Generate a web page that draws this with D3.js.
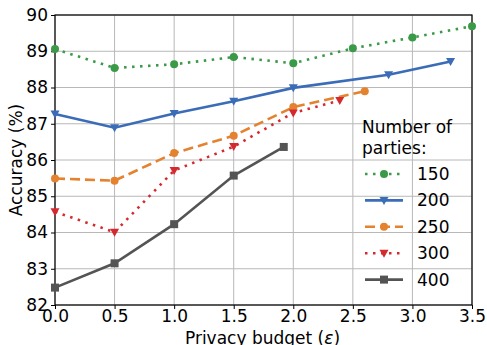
<!DOCTYPE html>
<html>
<head>
<meta charset="utf-8">
<script src="https://cdn.jsdelivr.net/npm/d3@7"></script>
<style>
  body { margin: 0; background: #fff; }
  text { font-family: "DejaVu Sans", sans-serif; fill: #000; }
</style>
</head>
<body>
<div id="chart-area"></div>
<script>
// Data
const series = ["150", "200", "250", "300", "400"];
const budget150 = [0, 0.5, 1.0, 1.5, 2.0, 2.5, 3.0, 3.5];
const acc150 = [89.06, 88.54, 88.64, 88.84, 88.67, 89.08, 89.38, 89.69];
const budget200 = [0, 0.5, 1.0, 1.5, 2.0, 2.8, 3.32];
const acc200 = [87.27, 86.89, 87.28, 87.62, 87.99, 88.35, 88.72];
const budget250 = [0, 0.5, 1.0, 1.5, 2.0, 2.6];
const acc250 = [85.49, 85.43, 86.19, 86.67, 87.46, 87.90];
const budget300 = [0, 0.5, 1.0, 1.5, 2.0, 2.39];
const acc300 = [84.57, 84.01, 85.71, 86.37, 87.30, 87.64];
const budget400 = [0, 0.5, 1.0, 1.5, 1.92];
const acc400 = [82.48, 83.15, 84.23, 85.57, 86.36];
const xTicks = [0, 0.5, 1.0, 1.5, 2.0, 2.5, 3.0, 3.5];
const yTicks = [82, 83, 84, 85, 86, 87, 88, 89, 90];

const budgets = [budget150, budget200, budget250, budget300, budget400];
const accs = [acc150, acc200, acc250, acc300, acc400];

const styles = {
  "150": { color: "#3a9a48", dash: "2.5,5.5", marker: "circle" },
  "200": { color: "#3b6cb7", dash: null, marker: "triangle" },
  "250": { color: "#e5822f", dash: "10,5", marker: "circle" },
  "300": { color: "#d42a2f", dash: "2.5,5.5", marker: "triangle" },
  "400": { color: "#545454", dash: null, marker: "square" }
};

const W = 487, H = 345;
const margin = { top: 15, right: 15, bottom: 40, left: 55 };
const width = W - margin.left - margin.right;
const height = H - margin.top - margin.bottom;
const fs = "17px";

const svg = d3.select("#chart-area")
  .append("svg")
  .attr("width", W)
  .attr("height", H);

const g = svg.append("g")
  .attr("transform", `translate(${margin.left},${margin.top})`);

const x = d3.scaleLinear().domain([0, 3.5]).range([0, width]);
const y = d3.scaleLinear().domain([82, 90]).range([height, 0]);

// grid
g.append("g").selectAll("line").data(xTicks).enter().append("line")
  .attr("x1", d => x(d)).attr("x2", d => x(d))
  .attr("y1", 0).attr("y2", height)
  .attr("stroke", "#b8b8b8").attr("stroke-width", 1);
g.append("g").selectAll("line").data(yTicks).enter().append("line")
  .attr("x1", 0).attr("x2", width)
  .attr("y1", d => y(d)).attr("y2", d => y(d))
  .attr("stroke", "#b8b8b8").attr("stroke-width", 1);

// axes
const xAxis = g.append("g")
  .attr("transform", `translate(0,${height})`)
  .call(d3.axisBottom(x).tickValues(xTicks).tickFormat(d3.format(".1f")).tickSize(4).tickSizeOuter(0));
const yAxis = g.append("g")
  .call(d3.axisLeft(y).tickValues(yTicks).tickFormat(d3.format("d")).tickSize(4).tickSizeOuter(0));
[xAxis, yAxis].forEach(a => {
  a.select(".domain").remove();
  a.selectAll("text").style("font-size", fs).attr("fill", "#000");
  a.selectAll("line").attr("stroke", "#000");
});
xAxis.selectAll("text").attr("y", 5);

// frame
g.append("rect")
  .attr("width", width).attr("height", height)
  .attr("fill", "none").attr("stroke", "#000").attr("stroke-width", 1.2);

// lines
const line = d3.line().x(d => x(d[0])).y(d => y(d[1]));

function drawMarker(sel, kind, color) {
  if (kind === "circle") {
    sel.append("circle").attr("r", 4).attr("fill", color);
  } else if (kind === "square") {
    sel.append("rect").attr("x", -4).attr("y", -4).attr("width", 8).attr("height", 8).attr("fill", color);
  } else {
    sel.append("path").attr("d", "M-4.5,-3.5L4.5,-3.5L0,4.5Z").attr("fill", color);
  }
}

series.forEach((s, i) => {
  const st = styles[s];
  const pts = budgets[i].map((b, j) => [b, accs[i][j]]);
  g.append("path")
    .datum(pts)
    .attr("d", line)
    .attr("fill", "none")
    .attr("stroke", st.color)
    .attr("stroke-width", 2.6)
    .attr("stroke-dasharray", st.dash);
  g.append("g").selectAll("g").data(pts).enter().append("g")
    .attr("transform", d => `translate(${x(d[0])},${y(d[1])})`)
    .each(function() { drawMarker(d3.select(this), st.marker, st.color); });
});

// axis labels
const xl = svg.append("text")
  .attr("x", margin.left + width / 2 - 1)
  .attr("y", 344)
  .attr("text-anchor", "middle")
  .style("font-size", fs);
xl.append("tspan").text("Privacy budget (");
xl.append("tspan").style("font-style", "italic").text("\u03b5");
xl.append("tspan").text(")");
svg.append("text")
  .attr("transform", `translate(22,${margin.top + height / 2}) rotate(-90)`)
  .attr("text-anchor", "middle")
  .style("font-size", fs)
  .text("Accuracy (%)");

// legend
const legend = svg.append("g").attr("transform", "translate(362,0)");
legend.append("text").attr("x", 0).attr("y", 133).style("font-size", fs).text("Number of");
legend.append("text").attr("x", 0).attr("y", 154).style("font-size", fs).text("parties:");
series.forEach((s, i) => {
  const st = styles[s];
  const ly = 174 + i * 26.4;
  const item = legend.append("g").attr("transform", `translate(0,${ly})`);
  item.append("line")
    .attr("x1", 3).attr("x2", 41).attr("y1", 0).attr("y2", 0)
    .attr("stroke", st.color).attr("stroke-width", 2.6)
    .attr("stroke-dasharray", st.dash);
  drawMarker(item.append("g").attr("transform", "translate(22,0)"), st.marker, st.color);
  item.append("text").attr("x", 55).attr("y", 6).style("font-size", fs).text(s);
});
</script>
</body>
</html>
